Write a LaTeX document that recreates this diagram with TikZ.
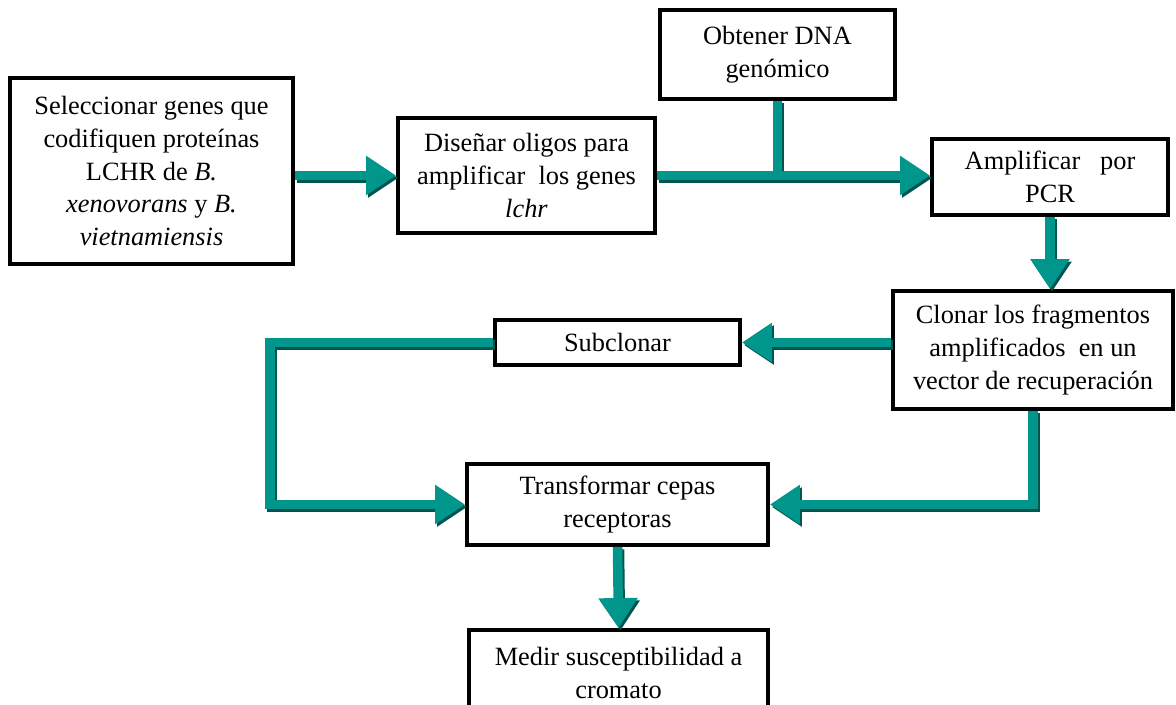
\documentclass[tikz,border=0pt]{standalone}
\usepackage{fontspec}
\setmainfont{Liberation Serif}
\usetikzlibrary{arrows.meta,positioning,calc}
\definecolor{verde}{RGB}{0,150,140}
\definecolor{verdeosc}{RGB}{0,85,80}
\begin{document}
\begin{tikzpicture}
                    [caja/.style={draw,line width=2.2pt,align=center,inner sep=2pt,
                                  font=\fontsize{15}{18.6}\selectfont},
                     flecha/.style={line width=0.19cm,color=verde,
                                  -{Triangle[length=0.6cm,width=0.75cm]},
                                  preaction={draw=verdeosc,line width=0.19cm,
                                  -{Triangle[length=0.6cm,width=0.75cm]},
                                  transform canvas={shift={(0.04,-0.05)}}}},
                     linea/.style={line width=0.19cm,color=verde,
                                  preaction={draw=verdeosc,line width=0.19cm,
                                  transform canvas={shift={(0.04,-0.05)}}}}]

                    \useasboundingbox (0,0) rectangle (23.52,-14.08);

                    \node[caja,minimum width=5.66cm,minimum height=3.72cm] (genes) at (3.03,-3.42)
                        {Seleccionar genes que\\codifiquen proteínas\\LCHR de \textit{B.}\\\textit{xenovorans} y \textit{B.}\\\textit{vietnamiensis}};
                    \node[caja,minimum width=5.14cm,minimum height=2.30cm] (oligos) at (10.53,-3.51)
                        {Diseñar oligos para\\amplificar\ \ los genes\\\textit{lchr}};
                    \node[caja,minimum width=4.70cm,minimum height=1.78cm] (dna) at (15.55,-1.09)
                        {Obtener DNA\\genómico};
                    \node[caja,minimum width=4.72cm,minimum height=1.52cm] (pcr) at (21.00,-3.54)
                        {Amplificar\ \ \ por\\PCR};
                    \node[caja,minimum width=5.60cm,minimum height=2.36cm] (clonar) at (20.66,-7.00)
                        {Clonar los fragmentos\\amplificados\ \ en un\\vector de recuperación};
                    \node[caja,minimum width=4.90cm,minimum height=0.90cm] (sub) at (12.35,-6.85)
                        {Subclonar};
                    \node[caja,minimum width=6.02cm,minimum height=1.62cm] (trans) at (12.35,-10.09)
                        {Transformar cepas\\receptoras};
                    \begin{scope}
                    \clip (0,0) rectangle (23.52,-14.08);
                    \node[caja,minimum width=5.98cm,minimum height=1.72cm] (medir) at (12.37,-13.46)
                        {Medir susceptibilidad a\\cromato};
                    \end{scope}

                    % conectores
                    \draw[linea] (dna.south) -- (dna.south |- oligos.east);
                    \draw[flecha] (genes.east |- oligos.west) -- (oligos.west);
                    \draw[flecha] (oligos.east) -- (oligos.east -| pcr.west);
                    \draw[flecha] (pcr.south) -- (pcr.south |- clonar.north);
                    \draw[flecha] (clonar.west |- sub.east) -- (sub.east);
                    \draw[flecha] (sub.west) -- ++(-4.46,0) |- (trans.west);
                    \draw[flecha] (clonar.south) |- (trans.east);
                    \draw[flecha] (trans.south) -- (medir.north);
                \end{tikzpicture}
\end{document}
